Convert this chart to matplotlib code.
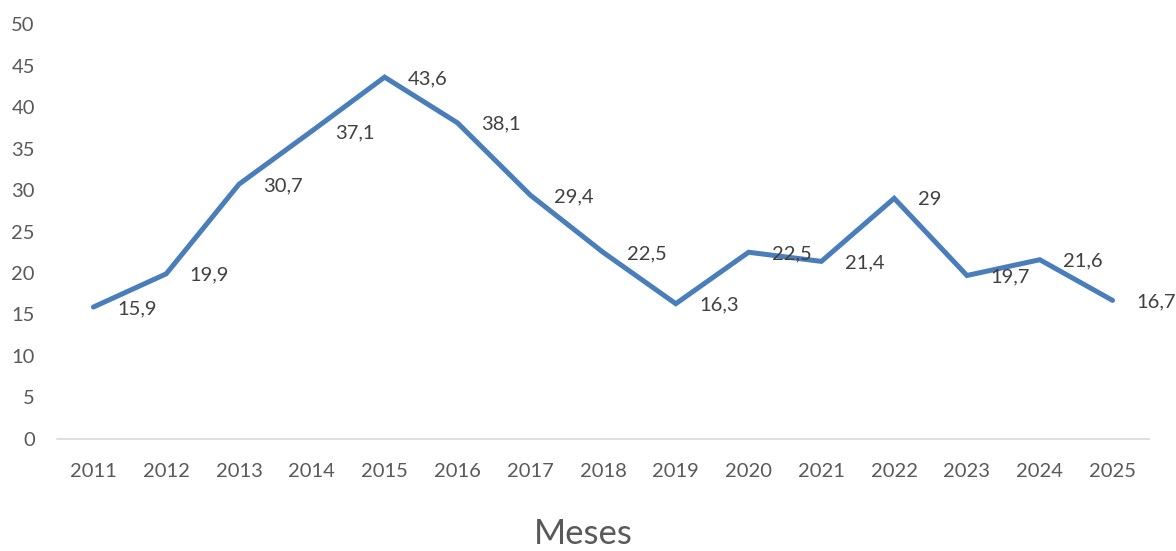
import matplotlib
matplotlib.use("Agg")
import matplotlib.pyplot as plt

years = ["2011", "2012", "2013", "2014", "2015", "2016", "2017", "2018",
         "2019", "2020", "2021", "2022", "2023", "2024", "2025"]
values = [15.9, 19.9, 30.7, 37.1, 43.6, 38.1, 29.4, 22.5, 16.3, 22.5, 21.4, 29.0, 19.7, 21.6, 16.7]
labels = ["15,9", "19,9", "30,7", "37,1", "43,6", "38,1", "29,4", "22,5",
          "16,3", "22,5", "21,4", "29", "19,7", "21,6", "16,7"]
yticks = [0, 5, 10, 15, 20, 25, 30, 35, 40, 45, 50]

plt.rcParams['font.family'] = ['Lato', 'DejaVu Sans']

fig = plt.figure(figsize=(11.76, 5.51), dpi=100)
ax = fig.add_axes([0.0485, 0.2033, 0.9285, 0.7531])

x = list(range(len(years)))
ax.plot(x, values, color="#4A7EBB", linewidth=3.6, solid_joinstyle="miter", solid_capstyle="round", zorder=3)

for xi, v, lab in zip(x, values, labels):
    ax.annotate(lab, (xi, v), xytext=(17, -1), textcoords="offset points",
                ha="left", va="center", fontsize=14.5, color="#404040", zorder=4)

ax.set_xlim(-0.5, len(years) - 0.5)
ax.set_ylim(0, 50)
ax.set_yticks(yticks)
ax.set_yticklabels([str(t) for t in yticks])
ax.set_xticks(x)
ax.set_xticklabels(years)

for s in ["top", "right", "left"]:
    ax.spines[s].set_visible(False)
ax.spines["bottom"].set_color("#D9D9D9")
ax.spines["bottom"].set_linewidth(1.2)

ax.tick_params(axis="y", length=0, pad=16, labelsize=14.5, labelcolor="#595959")
ax.tick_params(axis="x", length=0, pad=17, labelsize=14.5, labelcolor="#595959")

ax.set_xlabel("Meses", fontsize=25, color="#595959", labelpad=28)
ax.xaxis.label.set_x(0.482)

fig.savefig("out.png", dpi=100)
